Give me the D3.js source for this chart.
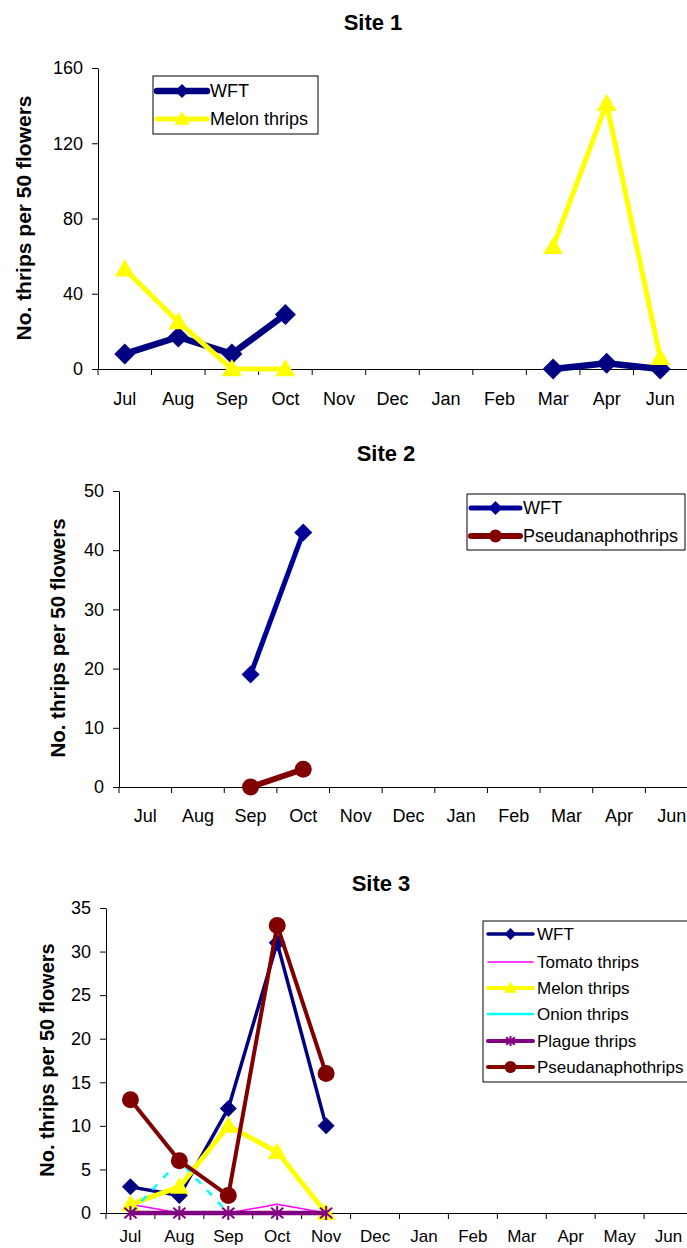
<!DOCTYPE html>
<html><head><meta charset="utf-8">
<script src="https://cdn.jsdelivr.net/npm/d3@7"></script>
<style>
body{margin:0;background:#fff}
svg text{font-family:"Liberation Sans",Arial,Helvetica,sans-serif;fill:#000}
</style>
</head><body>
<svg id="c" width="687" height="1248"></svg>
<script>
// ---------- data ----------
const site1Months = ["Jul","Aug","Sep","Oct","Nov","Dec","Jan","Feb","Mar","Apr","Jun"];
const site1WFT    = [8,17,8,29,null,null,null,null,0,3,0];
const site1Melon  = [53,25,0,0,null,null,null,null,65,141,6];
const site1Ticks  = [0,40,80,120,160];

const site2Months = ["Jul","Aug","Sep","Oct","Nov","Dec","Jan","Feb","Mar","Apr","Jun"];
const site2WFT    = [null,null,19,43,null,null,null,null,null,null,null];
const site2Pseuda = [null,null,0,3,null,null,null,null,null,null,null];
const site2Ticks  = [0,10,20,30,40,50];

const site3Months = ["Jul","Aug","Sep","Oct","Nov","Dec","Jan","Feb","Mar","Apr","May","Jun"];
const site3WFT    = [3,2,12,31,10,null,null,null,null,null,null,null];
const site3Tomato = [1,0,0,1,0,null,null,null,null,null,null,null];
const site3Melon  = [1,3,10,7,0,null,null,null,null,null,null,null];
const site3Onion  = [0,6,0,0,0,null,null,null,null,null,null,null];
const site3Plague = [0,0,0,0,0,null,null,null,null,null,null,null];
const site3Pseuda = [13,6,2,33,16,null,null,null,null,null,null,null];
const site3Ticks  = [0,5,10,15,20,25,30,35];

const svg = d3.select("#c");
const FONT = '"Liberation Sans",Arial,Helvetica,sans-serif';

function marker(sel, type, size, color){
  if(type==="diamond"){
    sel.append("path").attr("d",`M0,${-size}L${size},0L0,${size}L${-size},0Z`).attr("fill",color);
  } else if(type==="triangle"){
    const h=size*0.9, w=size;
    sel.append("path").attr("d",`M0,${-h*0.62}L${w*0.55},${h*0.45}L${-w*0.55},${h*0.45}Z`).attr("fill",color);
  } else if(type==="circle"){
    sel.append("circle").attr("r",size).attr("fill",color);
  } else if(type==="star"){
    const s=size;
    sel.append("path").attr("d",`M0,${-s}L0,${s}M${-s*0.87},${-s*0.75}L${s*0.87},${s*0.75}M${-s*0.87},${s*0.75}L${s*0.87},${-s*0.75}`)
      .attr("stroke",color).attr("stroke-width",2).attr("fill","none");
  }
}

function drawPanel(cfg){
  const g = svg.append("g");
  const x = d3.scaleBand().domain(cfg.months).range([cfg.x0,cfg.x1]).padding(0);
  const y = d3.scaleLinear().domain([0,cfg.yMax]).range([cfg.yBottom,cfg.yTop]);
  const cx = m => x(m)+x.bandwidth()/2;

  g.append("text").attr("x",cfg.titleX).attr("y",cfg.titleY).attr("dy","0.35em")
    .attr("text-anchor","middle").attr("font-weight","bold").attr("font-size",22).text(cfg.title);

  g.append("text").attr("transform",`translate(${cfg.ylabX},${cfg.ylabY}) rotate(-90)`)
    .attr("dy","0.35em").attr("text-anchor","middle").attr("font-weight","bold")
    .attr("font-size",cfg.ylabSize).text("No. thrips per 50 flowers");

  const ya = g.append("g").attr("transform",`translate(${cfg.x0},0)`)
    .call(d3.axisLeft(y).tickValues(cfg.ticks).tickSize(6).tickSizeOuter(0).tickPadding(9));
  ya.attr("font-family",FONT).attr("font-size",18);
  ya.selectAll("line,path").attr("stroke","#000");

  const xa = g.append("g").attr("transform",`translate(0,${cfg.yBottom})`)
    .call(d3.axisBottom(x).tickSize(0).tickSizeOuter(0).tickPadding(cfg.xPad));
  xa.attr("font-family",FONT).attr("font-size",cfg.xFont||18);
  xa.select(".domain").attr("stroke","#000");
  xa.selectAll(".btick").data(cfg.months).enter().append("line").attr("class","btick")
    .attr("x1",d=>x(d)).attr("x2",d=>x(d)).attr("y1",0).attr("y2",6).attr("stroke","#000");

  cfg.series.forEach(s=>{
    const pts = cfg.months.map((m,i)=>({m, v:s.values[i]}));
    const line = d3.line().defined(d=>d.v!=null).x(d=>cx(d.m)).y(d=>y(d.v));
    g.append("path").datum(pts).attr("d",line).attr("fill","none")
      .attr("stroke",s.color).attr("stroke-width",s.width)
      .attr("stroke-dasharray",s.dash||null).attr("stroke-linejoin","round");
    if(s.marker){
      pts.filter(d=>d.v!=null).forEach(d=>{
        const mg = g.append("g").attr("transform",`translate(${cx(d.m)},${y(d.v)})`);
        marker(mg,s.marker,s.msize,s.color);
      });
    }
  });

  const L = cfg.legend;
  const lg = g.append("g");
  lg.append("rect").attr("x",L.x).attr("y",L.y).attr("width",L.w).attr("height",L.h)
    .attr("fill","#fff").attr("stroke","#000").attr("stroke-width",1);
  cfg.series.forEach((s,i)=>{
    const yy = L.rowY[i];
    lg.append("line").attr("x1",L.lx1).attr("x2",L.lx2).attr("y1",yy).attr("y2",yy)
      .attr("stroke",s.color).attr("stroke-width",s.legWidth||s.width).attr("stroke-linecap","round");
    if(s.marker){
      const mg = lg.append("g").attr("transform",`translate(${(L.lx1+L.lx2)/2},${yy})`);
      marker(mg,s.marker,s.legMsize||s.msize*0.75,s.color);
    }
    lg.append("text").attr("x",L.tx).attr("y",yy).attr("dy","0.35em").attr("font-size",L.font||18).text(s.name);
  });
}

drawPanel({
  title:"Site 1", titleX:373, titleY:22,
  ylabX:24, ylabY:218, ylabSize:21,
  months:site1Months, x0:98, x1:687, yBottom:369, yTop:68, yMax:160, ticks:site1Ticks, xPad:23,
  series:[
    {name:"WFT", values:site1WFT, color:"#000080", width:6.5, marker:"diamond", msize:10.5, legMsize:7},
    {name:"Melon thrips", values:site1Melon, color:"#ffff00", width:5, marker:"triangle", msize:18, legMsize:14}
  ],
  legend:{x:153,y:76,w:165,h:58,rowY:[91,119],lx1:157,lx2:207,tx:210}
});

drawPanel({
  title:"Site 2", titleX:386, titleY:453,
  ylabX:58, ylabY:638, ylabSize:20.5,
  months:site2Months, x0:119, x1:698, yBottom:787, yTop:491, yMax:50, ticks:site2Ticks, xPad:22,
  series:[
    {name:"WFT", values:site2WFT, color:"#000099", width:5, marker:"diamond", msize:9, legMsize:7},
    {name:"Pseudanaphothrips", values:site2Pseuda, color:"#800000", width:6, marker:"circle", msize:8.5, legMsize:6.5}
  ],
  legend:{x:467,y:494,w:218,h:56,rowY:[508,536],lx1:471,lx2:520,tx:523}
});

drawPanel({
  title:"Site 3", titleX:381, titleY:883,
  ylabX:47, ylabY:1060, ylabSize:20,
  months:site3Months, x0:106, x1:693, yBottom:1213, yTop:908, yMax:35, ticks:site3Ticks, xPad:17, xFont:17,
  series:[
    {name:"WFT", values:site3WFT, color:"#000080", width:3.5, marker:"diamond", msize:8.5, legMsize:6},
    {name:"Tomato thrips", values:site3Tomato, color:"#ff00ff", width:1.5},
    {name:"Melon thrips", values:site3Melon, color:"#ffff00", width:5, marker:"triangle", msize:17, legMsize:12, legWidth:4},
    {name:"Onion thrips", values:site3Onion, color:"#00ffff", width:2.5, dash:"7,9", legWidth:2.5},
    {name:"Plague thrips", values:site3Plague, color:"#800080", width:4.5, marker:"star", msize:7, legMsize:5, legWidth:4},
    {name:"Pseudanaphothrips", values:site3Pseuda, color:"#800000", width:4, marker:"circle", msize:8.5, legMsize:6}
  ],
  legend:{x:483,y:921,w:206,h:161,rowY:[934,962,988,1014,1041,1067],lx1:488,lx2:533,tx:537,font:17}
});
</script>
</body></html>
